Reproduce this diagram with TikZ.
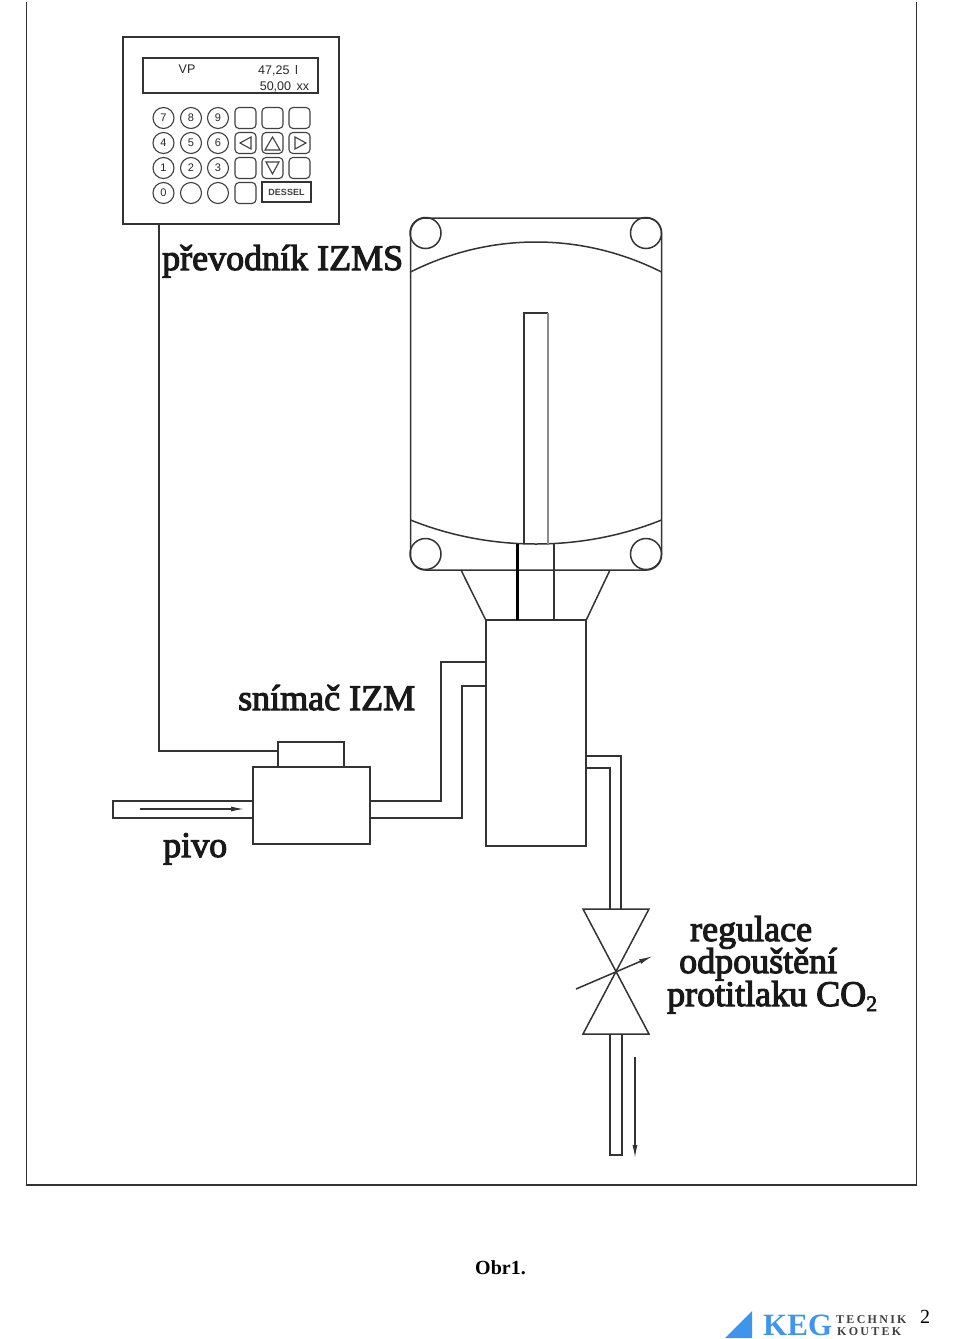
\documentclass[tikz,border=0pt]{standalone}
\usepackage{fontspec}
\setmainfont{Liberation Serif}
\setsansfont{Liberation Sans}
\newfontfamily\labelfont[FakeBold=3]{Liberation Serif}
\newfontfamily\logofont[LetterSpace=19]{Liberation Serif}
\usetikzlibrary{arrows.meta}
\definecolor{kegblue}{HTML}{3F94EE}
\tikzset{
	line/.style={line width=1.5pt,draw=black!80},
	box/.style={line,rectangle,inner sep=0pt,outer sep=0pt},
	keyline/.style={line width=1.1pt,draw=black!75},
	keyround/.style={keyline,circle,minimum size=21pt,inner sep=0pt,font=\sffamily\fontsize{11}{11}\selectfont,text=black!85},
	keysquare/.style={keyline,rectangle,rounded corners=4pt,minimum size=21pt,inner sep=0pt},
	bolt/.style={line,circle,minimum size=31pt,inner sep=0pt},
	lcdtext/.style={inner sep=0pt,anchor=base,font=\sffamily\fontsize{12.5}{12.5}\selectfont,text=black!85},
	caption/.style={inner sep=0pt,anchor=base west,font=\labelfont\fontsize{36}{36}\selectfont,text=black!90},
	flow/.style={line width=1.2pt,draw=black!80,-{Latex[length=13pt,width=5pt]}}
}
\begin{document}
\begin{tikzpicture}[x=1pt,y=-1pt]
	\useasboundingbox (0,0) rectangle (960,1339);
%	frame of the page
	\draw [line] (26.5,2) -- (26.5,1185) -- (916.5,1185) -- (916.5,2);
%	converter with its keypad
	\node [box,minimum width=216pt,minimum height=187pt] (converter) at (231,130.5) {};
	\node [box,minimum width=175pt,minimum height=35pt] (lcd) at (230.5,75.5) {};
	\node [lcdtext] (lcdvp) at (187,73) {VP};
	\node [lcdtext] (lcdvol) at (278,74) {47,25 \,l};
	\node [lcdtext] (lcdset) at (284.5,90) {50,00 \,xx};
	\foreach \name/\label/\x/\y in {k7/7/163.5/118,k8/8/191/118,k9/9/218/118,k4/4/163.5/143,k5/5/191/143,k6/6/218/143,k1/1/163.5/168,k2/2/191/168,k3/3/218/168,k0/0/163.5/193,ka//191/193,kb//218/193}
		\node [keyround] (\name) at (\x,\y) {\label};
	\foreach \name/\x/\y in {s1/245.5/118,s2/272.5/118,s3/299.5/118,sleft/245.5/143,sup/272.5/143,sright/299.5/143,s4/245.5/168,sdown/272.5/168,s5/299.5/168,s6/245.5/193}
		\node [keysquare] (\name) at (\x,\y) {};
	\draw [keyline] (251,137) -- (251,149) -- (240,143) -- cycle;
	\draw [keyline] (265,150) -- (280,150) -- (272.5,137) -- cycle;
	\draw [keyline] (295,137) -- (295,149) -- (306,143) -- cycle;
	\draw [keyline] (266,162) -- (279,162) -- (272.5,174) -- cycle;
	\node [box,minimum width=49pt,minimum height=20pt,font=\sffamily\bfseries\fontsize{9}{9}\selectfont,text=black!75] (dessel) at (286.5,192) {DESSEL};
%	tank
	\draw [line,rounded corners=15pt] (410.5,395) -- (410.5,218) -- (661.5,218) -- (661.5,570) -- (410.5,570) -- cycle;
	\node [bolt] (boltnw) at (425.5,233) {};
	\node [bolt] (boltne) at (646,233) {};
	\node [bolt] (boltsw) at (425.5,554) {};
	\node [bolt] (boltse) at (646,554) {};
	\draw [line] (410.5,272) .. controls (490,232) and (582,232) .. (661.5,272);
	\draw [line] (410.5,520) .. controls (490,552) and (582,552) .. (661.5,520);
	\draw [line] (524,544) -- (524,313) -- (548,313);
	\draw [line,black!45] (548,313) -- (548,544);
%	chamber below the tank
	\node [box,minimum width=100pt,minimum height=226pt] (chamber) at (536,733) {};
	\draw [line] (461,570) -- (486,620.5);
	\draw [line] (610,570) -- (586,620.5);
	\draw [line width=3pt,black] (517,544) -- (517,620);
	\draw [line] (554,544) -- (554,620);
%	sensor
	\node [box,minimum width=117pt,minimum height=77pt] (sensor) at (311.5,805.5) {};
	\node [box,minimum width=66pt,minimum height=25pt] (sensorcap) at (311,754.5) {};
	\coordinate (cablein) at (278,751);
	\coordinate (cabletop) at (159,224);
	\draw [line] (cabletop) |- (cablein);
%	pipes between sensor and chamber
	\draw [line] (486,662) -- (441,662) -- (441,801) -- (370,801);
	\draw [line] (486,686) -- (462,686) -- (462,818) -- (370,818);
%	inlet
	\draw [line] (253,801) -- (113,801) -- (113,818) -- (253,818);
	\draw [flow] (140,809) -- (244,809);
%	valve
	\draw [line] (583,909) -- (649,909) -- (583,1034) -- (649,1034) -- cycle;
	\draw [line,-{Latex[length=14pt,width=5pt]}] (576,989) -- (653,956);
	\draw [line] (586,756) -- (621,756) -- (621,909);
	\draw [line] (586,768) -- (610,768) -- (610,909);
	\draw [line] (610,1034) -- (610,1155) -- (622,1155) -- (622,1034);
	\draw [flow] (635,1057) -- (635,1158);
%	labels
	\node [caption] (lblconverter) at (162,270) {převodník IZMS};
	\node [caption] (lblsensor) at (238,710) {snímač IZM};
	\node [caption] (lblbeer) at (163,857) {pivo};
	\node [caption] (lblreg) at (690,941) {regulace};
	\node [caption] (lblrelief) at (679,973) {odpouštění};
	\node [caption] (lblback) at (667,1006) {protitlaku CO\raisebox{-5pt}{\fontsize{22}{22}\selectfont 2}};
	\node [inner sep=0pt,anchor=base west,font=\fontsize{20}{20}\selectfont\bfseries] (figno) at (475,1274) {Obr1.};
%	logo and page number
	\fill [kegblue] (725,1338) -- (752,1338) -- (752,1311) -- cycle;
	\node [inner sep=0pt,anchor=base west,font=\fontsize{31}{31}\selectfont\bfseries,text=kegblue] (logokeg) at (763,1335.5) {KEG};
	\node [inner sep=0pt,anchor=base west,font=\logofont\fontsize{12}{12}\selectfont\bfseries,text=black!75] (logotech) at (836,1323) {TECHNIK};
	\node [inner sep=0pt,anchor=base west,font=\logofont\fontsize{12}{12}\selectfont\bfseries,text=black!75] (logokout) at (837,1335.5) {KOUTEK};
	\node [inner sep=0pt,anchor=base west,font=\fontsize{20}{20}\selectfont] (pageno) at (920,1323) {2};
\end{tikzpicture}
\end{document}
